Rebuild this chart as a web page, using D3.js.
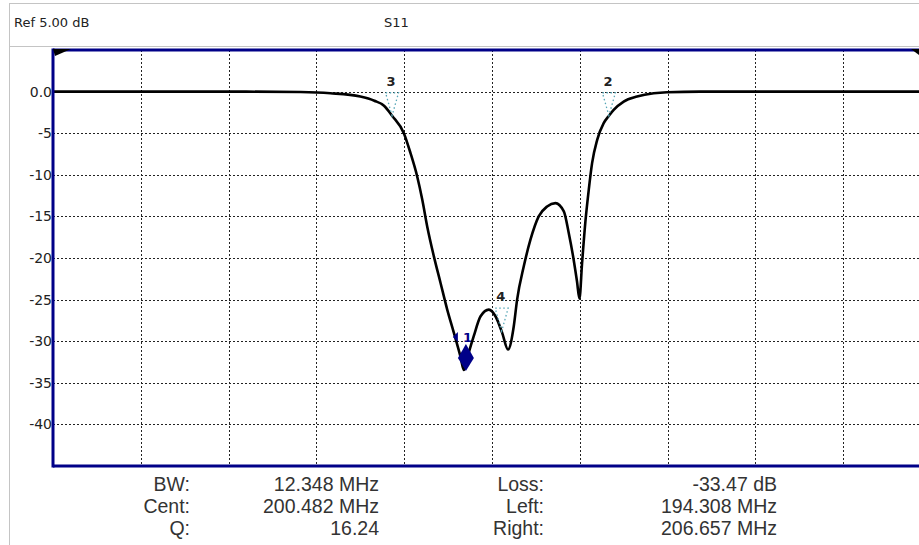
<!DOCTYPE html>
<html>
<head>
<meta charset="utf-8">
<script src="https://cdn.jsdelivr.net/npm/d3@7"></script>
<style>
  html, body { margin: 0; padding: 0; background: #fff; overflow: hidden; }
  svg { display: block; }
</style>
</head>
<body>
<div id="chart"></div>
<script>
var refLabel = "Ref 5.00 dB";
var traceName = "S11";

// trace (MHz, dB)
var freqMHz = [175, 186, 189.1, 190.8, 192.5, 193.3, 193.85, 194.31, 194.98, 195.36, 195.74, 196.03, 196.31, 196.69, 197.07, 197.45, 197.83, 198.21, 198.40, 198.66, 198.96, 199.35, 199.82, 200.20, 200.58, 200.91, 201.24, 201.43, 201.81, 202.19, 202.66, 203.14, 203.61, 204.09, 204.37, 204.65, 204.84, 204.98, 205.13, 205.32, 205.51, 205.70, 205.99, 206.36, 206.66, 206.93, 207.50, 208.26, 209.21, 209.97, 211.86, 225];
var s11dB = [0, 0, -0.05, -0.2, -0.6, -1.1, -1.7, -2.9, -5.0, -7.4, -10.2, -13.0, -16.2, -19.8, -23.0, -26.2, -29.0, -31.9, -33.47, -31.5, -29.4, -27.0, -26.2, -27.0, -29.0, -31.0, -28.2, -25.0, -21.0, -17.8, -15.0, -13.8, -13.4, -14.4, -17.0, -20.2, -22.8, -24.9, -20.6, -15.6, -11.8, -8.6, -5.8, -3.8, -2.9, -2.2, -1.2, -0.6, -0.2, -0.07, 0, 0];

var yTickValues = [0, -5, -10, -15, -20, -25, -30, -35, -40];
var yTickLabels = ["0.0", "-5", "-10", "-15", "-20", "-25", "-30", "-35", "-40"];
var xGridMHz = [180, 185, 190, 195, 200, 205, 210, 215, 220];

var markerIds = ["1", "2", "3", "4"];
var markerFreq = [198.40, 206.657, 194.308, 200.55];
var markerDb = [-33.47, -2.9, -2.9, -28.8];

var statLabelsLeft = ["BW:", "Cent:", "Q:"];
var statValuesLeft = ["12.348 MHz", "200.482 MHz", "16.24"];
var statLabelsRight = ["Loss:", "Left:", "Right:"];
var statValuesRight = ["-33.47 dB", "194.308 MHz", "206.657 MHz"];

var width = 919, height = 545;
var plotLeft = 53, plotTop = 50;
var navy = "#000088";
var font = "'DejaVu Sans', Verdana, sans-serif";

var svg = d3.select("#chart").append("svg")
  .attr("width", width)
  .attr("height", height);

var x = d3.scaleLinear().domain([175, 225]).range([plotLeft, plotLeft + 878]);
var y = d3.scaleLinear().domain([5, -45]).range([plotTop, plotTop + 416]);
var plotBottom = y(-45);

// header box + panel left edge
svg.append("rect")
  .attr("x", 9.5).attr("y", 3.5)
  .attr("width", width).attr("height", 43)
  .attr("fill", "#fff")
  .attr("stroke", "#c4c4c4");
svg.append("line")
  .attr("x1", 9.5).attr("x2", 9.5)
  .attr("y1", 46).attr("y2", height)
  .attr("stroke", "#c4c4c4");
svg.append("text")
  .attr("x", 14).attr("y", 27)
  .attr("font-family", font).attr("font-size", 13)
  .attr("fill", "#222")
  .text(refLabel);
svg.append("text")
  .attr("x", 384).attr("y", 27)
  .attr("font-family", font).attr("font-size", 13)
  .attr("fill", "#222")
  .text(traceName);

// grid
var grid = svg.append("g")
  .attr("stroke", "#222")
  .attr("stroke-width", 1)
  .attr("stroke-dasharray", "2,2");
grid.selectAll("line.h")
  .data(yTickValues)
  .enter().append("line")
    .attr("class", "h")
    .attr("x1", plotLeft).attr("x2", width)
    .attr("y1", function(d){ return Math.round(y(d)) + 0.5; })
    .attr("y2", function(d){ return Math.round(y(d)) + 0.5; });
grid.selectAll("line.v")
  .data(xGridMHz)
  .enter().append("line")
    .attr("class", "v")
    .attr("x1", function(d){ return Math.round(x(d)) + 0.5; })
    .attr("x2", function(d){ return Math.round(x(d)) + 0.5; })
    .attr("y1", plotTop).attr("y2", plotBottom);

// y tick labels
svg.append("g").selectAll("text")
  .data(yTickValues)
  .enter().append("text")
    .attr("x", plotLeft - 1)
    .attr("y", function(d){ return y(d); })
    .attr("dy", "0.36em")
    .attr("text-anchor", "end")
    .attr("font-family", font).attr("font-size", 14)
    .attr("fill", "#222")
    .text(function(d, i){ return yTickLabels[i]; });

// trace
var points = freqMHz.map(function(f, i){ return [f, s11dB[i]]; });
var line = d3.line()
  .x(function(d){ return x(d[0]); })
  .y(function(d){ return y(d[1]); })
  .curve(d3.curveMonotoneX);
svg.append("path")
  .datum(points)
  .attr("d", line)
  .attr("fill", "none")
  .attr("stroke", "#000")
  .attr("stroke-width", 2.6)
  .attr("stroke-linejoin", "round");

// markers
var markers = markerIds.map(function(id, i){ return { id: id, f: markerFreq[i], db: markerDb[i] }; });
var mk = svg.append("g").selectAll("g")
  .data(markers)
  .enter().append("g")
    .attr("transform", function(d){ return "translate(" + x(d.f) + "," + y(d.db) + ")"; });

mk.filter(function(d){ return d.id !== "1"; })
  .append("path")
    .attr("d", "M0,0 L-6.5,-23 L6.5,-23 Z")
    .attr("fill", "none")
    .attr("stroke", "#56a6b6")
    .attr("stroke-width", 1.3)
    .attr("stroke-dasharray", "1.5,2.5");
mk.filter(function(d){ return d.id !== "1"; })
  .append("text")
    .attr("x", -1).attr("y", -30)
    .attr("text-anchor", "middle")
    .attr("font-family", font).attr("font-size", 13).attr("font-weight", "bold")
    .attr("fill", "#222")
    .text(function(d){ return d.id; });

var active = mk.filter(function(d){ return d.id === "1"; });
active.append("path")
  .attr("d", "M2,1 L-6,-12 L2,-26 L10,-12 Z")
  .attr("fill", navy);
active.append("path")
  .attr("d", "M-11,-33 L-6,-38 L-6,-28 Z")
  .attr("fill", navy);
active.append("text")
  .attr("x", -1).attr("y", -28)
  .attr("font-family", font).attr("font-size", 13).attr("font-weight", "bold")
  .attr("fill", navy)
  .text("1");

// plot frame
var frame = svg.append("g").attr("stroke", navy).attr("stroke-width", 3);
frame.append("line").attr("x1", plotLeft).attr("x2", width).attr("y1", plotTop).attr("y2", plotTop);
frame.append("line").attr("x1", plotLeft).attr("x2", plotLeft).attr("y1", plotTop - 1.5).attr("y2", plotBottom + 1.5);
frame.append("line").attr("x1", plotLeft).attr("x2", width).attr("y1", plotBottom).attr("y2", plotBottom);

svg.append("path")
  .attr("d", "M" + plotLeft + "," + (plotTop - 1) + " L" + (plotLeft + 18) + "," + (plotTop - 1) + " L" + (plotLeft + 2) + "," + (plotTop + 6) + " Z")
  .attr("fill", "#000");
svg.append("path")
  .attr("d", "M" + (width - 8) + "," + (plotTop - 1) + " L" + width + "," + (plotTop - 1) + " L" + width + "," + (plotTop + 5) + " Z")
  .attr("fill", "#000");

// summary block
var statFont = "'Liberation Sans', Arial, sans-serif";
var rowY = [491, 513, 535];
var cols = [
  { texts: statLabelsLeft, x: 190 },
  { texts: statValuesLeft, x: 379 },
  { texts: statLabelsRight, x: 544 },
  { texts: statValuesRight, x: 777 }
];
cols.forEach(function(c){
  svg.append("g").selectAll("text")
    .data(c.texts)
    .enter().append("text")
      .attr("x", c.x)
      .attr("y", function(d, i){ return rowY[i]; })
      .attr("text-anchor", "end")
      .attr("font-family", statFont).attr("font-size", 19.5)
      .attr("fill", "#333")
      .text(function(d){ return d; });
});
</script>
</body>
</html>
